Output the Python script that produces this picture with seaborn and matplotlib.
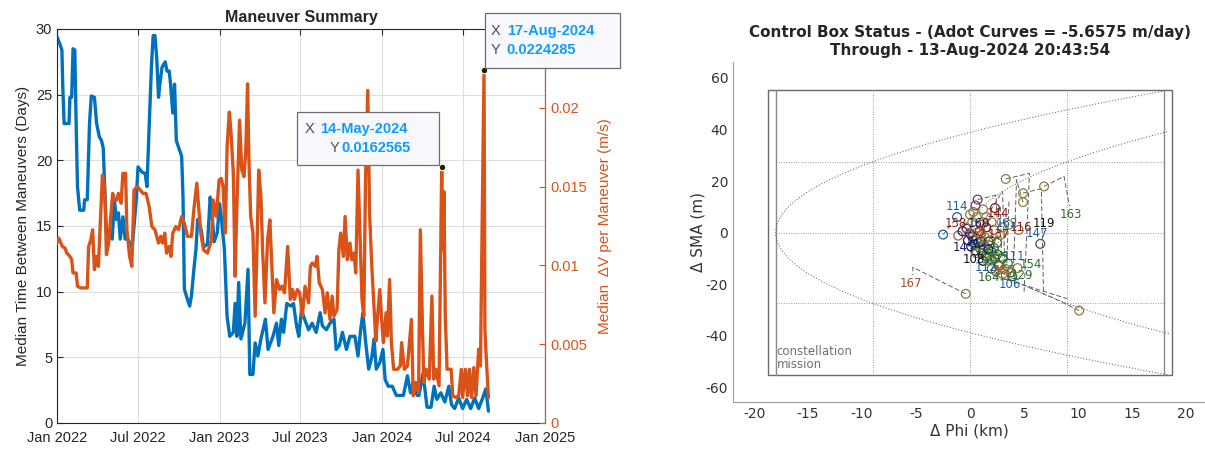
import numpy as np
import pandas as pd
import seaborn as sns
import matplotlib.pyplot as plt
from matplotlib.patches import Rectangle

sns.set_style("white")
plt.rcParams["font.family"] = ["Liberation Sans", "DejaVu Sans"]
plt.rcParams["axes.unicode_minus"] = False

# ---------------- left panel data (days since 1 Jan 2022) ----------------
start = pd.Timestamp("2022-01-01")

blue_days = [0, 6, 11, 13, 16, 27, 29, 33, 36, 40,
             43, 46, 51, 60, 62, 68, 73, 77, 84, 89,
             95, 100, 104, 107, 111, 116, 120, 124, 129, 133,
             138, 142, 148, 153, 157, 164, 169, 178, 182, 191,
             198, 202, 207, 212, 216, 220, 224, 228, 231, 236,
             243, 247, 252, 255, 260, 264, 268, 273, 280, 283,
             286, 293, 298, 302, 308, 312, 316, 324, 329, 338,
             344, 348, 353, 360, 365, 369, 376, 382, 388, 396,
             400, 404, 408, 413, 422, 429, 433, 440, 445, 451,
             458, 468, 474, 485, 493, 498, 504, 509, 516, 525,
             531, 538, 543, 549, 556, 565, 573, 582, 591, 596,
             605, 613, 622, 627, 634, 641, 650, 658, 669, 676,
             682, 687, 693, 700, 707, 712, 717, 725, 732, 737,
             744, 753, 762, 771, 778, 787, 794, 800, 809, 813,
             822, 831, 840, 847, 853, 862, 871, 880, 886, 893,
             902, 911, 920, 929, 938, 947, 956, 963, 969]
blue_vals = [29.4, 28.9, 28.4, 25.6, 22.8, 22.8, 24.8, 24.8, 28.5, 28.4,
             22.8, 18.0, 16.2, 16.2, 17.0, 17.0, 22.8, 24.9, 24.8, 22.8,
             21.8, 21.5, 20.9, 18.0, 14.5, 14.1, 14.5, 14.0, 17.0, 15.5,
             16.0, 14.0, 15.7, 14.0, 14.1, 13.7, 13.4, 17.0, 19.5, 19.1,
             19.0, 18.0, 22.5, 27.1, 29.5, 29.5, 27.8, 24.8, 25.8, 27.1,
             27.5, 26.8, 26.8, 25.8, 23.6, 25.8, 21.5, 21.0, 20.3, 17.2,
             10.2, 9.4, 8.9, 9.7, 11.9, 13.2, 15.5, 14.7, 13.4, 13.6,
             17.2, 16.0, 13.8, 14.5, 16.7, 15.7, 13.2, 8.1, 6.6, 6.9,
             9.1, 6.6, 10.7, 6.4, 7.6, 11.7, 3.7, 3.7, 6.1, 5.1,
             6.4, 7.9, 5.6, 6.6, 7.6, 5.9, 7.9, 6.9, 9.1, 8.9,
             9.1, 7.4, 6.6, 8.6, 7.9, 7.1, 7.6, 6.9, 8.4, 7.4,
             7.1, 7.6, 7.9, 5.6, 5.9, 6.9, 5.6, 6.6, 6.6, 5.1,
             7.1, 8.4, 6.2, 4.1, 5.0, 6.4, 4.1, 4.6, 5.6, 3.3,
             2.8, 2.8, 2.1, 2.1, 2.1, 3.6, 2.3, 3.1, 2.1, 2.1,
             3.8, 1.2, 1.2, 2.8, 1.8, 2.3, 1.6, 2.8, 1.4, 1.1,
             1.9, 1.1, 1.8, 1.1, 1.9, 1.1, 1.9, 2.6, 0.9]

dv_days = [0, 4, 12, 18, 22, 29, 33, 36, 43, 46,
           53, 68, 71, 76, 80, 84, 89, 93, 98, 102,
           107, 111, 116, 122, 125, 129, 134, 138, 144, 148,
           154, 157, 163, 168, 173, 180, 187, 193, 200, 207,
           213, 220, 224, 228, 233, 237, 242, 246, 252, 256,
           260, 267, 273, 280, 286, 293, 302, 308, 314, 318,
           323, 329, 338, 347, 351, 358, 364, 369, 373, 378,
           382, 387, 391, 396, 400, 404, 410, 415, 420, 424,
           428, 431, 435, 440, 445, 449, 453, 458, 462, 467,
           473, 478, 483, 487, 493, 500, 505, 511, 518, 524,
           529, 533, 540, 545, 551, 557, 565, 569, 573, 580,
           584, 589, 596, 602, 607, 613, 618, 622, 629, 633,
           637, 643, 647, 652, 658, 662, 667, 671, 676, 680,
           685, 689, 693, 698, 702, 707, 711, 716, 720, 725,
           729, 733, 739, 742, 747, 751, 756, 765, 771, 774,
           780, 787, 796, 800, 806, 812, 816, 821, 824, 829,
           836, 842, 846, 851, 858, 864, 866, 869, 872, 876,
           885, 889, 895, 902, 908, 911, 917, 922, 926, 931,
           936, 941, 947, 951, 959, 961, 965, 969]
dv_vals = [0.01142, 0.01173, 0.01120, 0.01110, 0.01078, 0.01057, 0.01036, 0.00952, 0.00952, 0.00868,
           0.00857, 0.00857, 0.01120, 0.01163, 0.01226, 0.00973, 0.01057, 0.00994, 0.01310, 0.01573,
           0.01500, 0.01068, 0.01142, 0.01352, 0.01457, 0.01415, 0.01415, 0.01457, 0.01394, 0.01584,
           0.01584, 0.01226, 0.01057, 0.00994, 0.01478, 0.01500, 0.01478, 0.01457, 0.01457, 0.01373,
           0.01247, 0.01226, 0.01184, 0.01142, 0.01184, 0.01142, 0.01205, 0.01078, 0.01120, 0.01057,
           0.01205, 0.01247, 0.01226, 0.01310, 0.01268, 0.01184, 0.01184, 0.01373, 0.01521, 0.01373,
           0.01205, 0.01099, 0.01078, 0.01163, 0.01415, 0.01310, 0.01542, 0.01552, 0.01500, 0.01205,
           0.01752, 0.01973, 0.01836, 0.01584, 0.00931, 0.01373, 0.01921, 0.01605, 0.01563, 0.01731,
           0.02152, 0.01668, 0.01310, 0.01205, 0.00678, 0.01099, 0.01605, 0.01436, 0.01078, 0.00762,
           0.01163, 0.01289, 0.00952, 0.00699, 0.00910, 0.00847, 0.00868, 0.00826, 0.01120, 0.00784,
           0.00847, 0.00784, 0.00847, 0.00826, 0.00678, 0.00868, 0.00762, 0.00994, 0.01015, 0.00994,
           0.01057, 0.00889, 0.00847, 0.00699, 0.00826, 0.00657, 0.00805, 0.00678, 0.00720, 0.01099,
           0.01205, 0.01057, 0.01310, 0.01036, 0.01142, 0.01036, 0.01078, 0.00952, 0.01605, 0.01247,
           0.00784, 0.00678, 0.01563, 0.02110, 0.01331, 0.00994, 0.00784, 0.00520, 0.00678, 0.00847,
           0.00657, 0.00510, 0.00699, 0.00552, 0.00910, 0.00510, 0.00341, 0.00341, 0.00362, 0.00510,
           0.00341, 0.00362, 0.00657, 0.00173, 0.00257, 0.00194, 0.01226, 0.00573, 0.00257, 0.00341,
           0.00278, 0.00805, 0.00278, 0.00341, 0.00236, 0.0162565, 0.01099, 0.01468, 0.00678, 0.00341,
           0.00341, 0.00173, 0.00162, 0.00173, 0.00341, 0.00162, 0.00341, 0.00173, 0.00341, 0.00162,
           0.00352, 0.00173, 0.00468, 0.00362, 0.0224285, 0.00594, 0.00362, 0.00162]

tip_dates = ["2024-05-14", "2024-08-17"]
tip_vals = [0.0162565, 0.0224285]
tip_labels_x = ["14-May-2024", "17-Aug-2024"]
tip_labels_y = ["0.0162565", "0.0224285"]

# ---------------- right panel data ----------------
adot_k = 0.0119            # curve shape for Adot = -5.6575 m/day
outer_vertex = -18.0
inner_vertex = 0.0
box_phi, box_sma = 18.7, 55.2
mission_phi = 18.0
grid_phi = [-9, 0, 9]
grid_sma = [-27.5, 0, 27.5]

sat_phi = [0.7, 0.5, 0.3, 0.0, 1.2, 2.3, 1.5, 0.2, -0.4, -0.7,
           -1.1, 0.5, 1.0, 0.3, 0.8, 1.4, 1.8, 2.2, 1.2, 0.6,
           1.5, 2.5, 3.0, 1.8, 2.6, 3.2, 2.4, 3.0, 3.8, 4.4,
           2.0, 3.0, 3.6, 4.5, 2.8, 4.9, 4.9, 3.3, 6.85, 10.1,
           6.5, -0.4, -2.5, -1.2, 1.0, 0.1, 1.7, 2.0,
           0.2, 0.6, 1.0, 0.4, 1.3, 0.9, 1.7, 1.1, 2.0, 1.6,
           2.3, 0.0, -0.3, 0.9, 1.5, 2.2, 1.2, 0.6, 2.7, 3.5,
           2.0, 3.3, 3.9, 1.2, 0.5, 1.9, 2.5, -0.2]
sat_sma = [12.8, 10.5, 8.0, 7.0, 9.0, 9.5, 6.0, 4.0, 2.0, 0.5,
           -1.2, 1.0, -1.0, -3.0, -4.0, -2.0, -5.0, -6.0, -7.0, -8.0,
           -9.0, -8.5, -10.0, -11.0, -12.5, -14.0, -15.0, -16.0, -15.5, -13.8,
           4.0, 2.0, 3.0, 1.0, -1.0, 15.3, 11.8, 20.8, 17.9, -30.3,
           -4.4, -23.8, -0.8, 6.0, 3.0, -5.5, -3.5, -10.5,
           -1.5, -2.5, -3.5, -4.5, -5.0, -6.0, -6.5, -8.0, -7.5, -9.5,
           -10.0, -0.5, 1.5, 0.5, 2.0, 1.0, 4.0, 6.0, -13.0, -12.0,
           -14.0, -16.5, -17.0, -11.0, -7.0, -3.0, -4.0, -3.0]
sat_col = ["purple", "purple", "olive", "olive", "olive", "red", "olive", "olive", "olive", "navy",
           "brown", "olive", "olive", "green", "navy", "olive", "green", "green", "brown", "olive",
           "green", "green", "green", "olive", "brown", "olive", "brown", "olive", "green", "olive",
           "olive", "olive", "olive", "olive", "olive", "olive", "olive", "olive", "olive", "olive",
           "purple", "olive", "blue", "blue", "brown", "navy", "green", "green",
           "navy", "green", "navy", "green", "brown", "green", "navy", "green", "green", "green",
           "green", "navy", "navy", "red", "red", "brown", "olive", "olive", "brown", "green",
           "green", "brown", "green", "black", "navy", "brown", "green", "navy"]

lab_text = ["114", "163", "119", "147", "116", "144", "167", "154", "111", "106",
            "164", "129", "112", "168", "138", "145", "108", "162", "137", "157",
            "135", "160"]
lab_phi = [-1.2, 9.3, 6.8, 6.2, 4.7, 2.6, -5.5, 5.6, 4.1, 3.7,
           1.7, 4.8, 1.5, 0.5, -1.3, -0.6, 0.3, 3.4, 2.7, 3.2,
           2.6, 0.8]
lab_sma = [10.2, 7.0, 3.4, -0.3, 2.1, 7.3, -19.7, -12.4, -9.3, -20.2,
           -17.6, -16.7, -13.5, -0.4, 3.6, -5.8, -10.3, 3.6, -0.6, -14.6,
           -9.8, 3.6]
lab_col = ["blue", "green", "black", "blue", "red", "red", "brown", "green", "blue", "blue",
           "green", "green", "blue", "brown", "red", "navy", "black", "blue", "red", "brown",
           "green", "navy"]

tracks = [
    ([-0.4, -5.3, -5.3], [-23.8, -13.5, -16.5]),
    ([6.85, 8.7, 9.2], [17.9, 21.8, 10.2]),
    ([-2.5, -1.2], [-0.8, 6.0]),
    ([3.3, 5.5, 5.0], [20.8, 23.0, -23.0]),
    ([4.9, 6.6, 6.8], [15.3, 17.0, -24.0]),
    ([4.9, 4.3, 4.0], [11.8, 20.5, -17.0]),
    ([3.6, 3.4], [12.0, -12.0]),
    ([2.8, 2.9], [10.0, -8.0]),
    ([10.1, 7.5, 4.9], [-30.3, -25.0, -20.3]),
    ([2.2, 9.0], [-16.7, -25.7]),
    ([0.7, 2.4, 2.6], [12.8, 14.5, -4.0]),
    ([1.5, 3.0, 3.2], [6.0, 16.0, -10.0]),
]

palette = {"blue": "#1F5FA0", "green": "#2E6B2E", "red": "#8B1A1A", "brown": "#A0522D",
           "navy": "#1A1A6E", "black": "#111111", "purple": "#6A3D6A", "olive": "#8C7E40"}

BLUE = "#0072BD"
ORANGE = "#D95319"
TIPBLUE = "#0E9CFF"
DARK = "#262626"

fig = plt.figure(figsize=(12.05, 4.51), dpi=100)

# ---------------- left panel ----------------
ax = fig.add_axes([0.0473, 0.0621, 0.4050, 0.8736])
df_b = pd.DataFrame({"date": start + pd.to_timedelta(blue_days, unit="D"), "days": blue_vals})
df_o = pd.DataFrame({"date": start + pd.to_timedelta(dv_days, unit="D"), "dv": dv_vals})

sns.lineplot(data=df_b, x="date", y="days", ax=ax, color=BLUE, lw=2.4)
ax.set_ylim(0, 30)
ax.set_yticks([0, 5, 10, 15, 20, 25, 30])
xt = pd.to_datetime(["2022-01-01", "2022-07-01", "2023-01-01", "2023-07-01",
                     "2024-01-01", "2024-07-01", "2025-01-01"])
ax.set_xticks(xt)
ax.set_xticklabels([d.strftime("%b %Y") for d in xt])
ax.set_xlim(xt[0], xt[-1])
ax.grid(True, color="#dedede", lw=0.8)
ax.set_xlabel("")
ax.set_ylabel("Median Time Between Maneuvers (Days)", fontsize=11, color=DARK)
ax.set_title("Maneuver Summary", fontweight="bold", fontsize=11.5, pad=5)
ax.tick_params(direction="in", length=4, labelsize=10.5, colors=DARK, top=True)
ax.tick_params(axis="x", pad=6)
for s in ["left", "top", "bottom"]:
    ax.spines[s].set_color(DARK)
    ax.spines[s].set_linewidth(0.8)

ax2 = ax.twinx()
sns.lineplot(data=df_o, x="date", y="dv", ax=ax2, color=ORANGE, lw=2.4)
ax2.scatter(pd.to_datetime(tip_dates), tip_vals, s=22, color="#1a1a1a",
            edgecolor="#FFFFB0", linewidth=0.8, zorder=5)
ax2.set_ylim(0, 0.025)
ax2.set_yticks([0, 0.005, 0.01, 0.015, 0.02])
ax2.set_yticklabels(["0", "0.005", "0.01", "0.015", "0.02"])
ax2.set_xlim(xt[0], xt[-1])
ax2.set_xlabel("")
ax2.set_ylabel("Median  \u0394V per Maneuver (m/s)", fontsize=11, color=ORANGE, labelpad=8)
ax2.tick_params(axis="y", direction="in", length=4, labelsize=10.5, colors=ORANGE)
ax2.spines["right"].set_color(ORANGE)
ax2.spines["left"].set_visible(False)
ax2.spines["top"].set_visible(False)
ax2.spines["bottom"].set_visible(False)

# data tips
tip_boxes = [(0.2465, 0.6341, 0.1178, 0.1175), (0.4025, 0.8492, 0.1120, 0.1220)]
tip_rows = [((0.2531, 0.2656, 0.714), (0.2739, 0.2830, 0.672)),
            ((0.4075, 0.4208, 0.931), (0.4075, 0.4200, 0.889))]
for (bx0, by0, bw, bh), (rx, ry), tx, ty in zip(tip_boxes, tip_rows, tip_labels_x, tip_labels_y):
    fig.patches.append(Rectangle((bx0, by0), bw, bh, transform=fig.transFigure,
                                 facecolor="#F8F8FE", edgecolor="#6e6e6e", lw=0.9, zorder=4))
    fig.text(rx[0], rx[2], "X", color="#505050", fontsize=10.5, va="center", zorder=5)
    fig.text(rx[1], rx[2], tx, color=TIPBLUE, fontsize=10.5, fontweight="bold", va="center", zorder=5)
    fig.text(ry[0], ry[2], "Y", color="#505050", fontsize=10.5, va="center", zorder=5)
    fig.text(ry[1], ry[2], ty, color=TIPBLUE, fontsize=10.5, fontweight="bold", va="center", zorder=5)

# ---------------- right panel ----------------
RF = ["DejaVu Sans"]
bx = fig.add_axes([0.6083, 0.1086, 0.3917, 0.7539])
bx.set_xlim(-21.95, 21.75)
bx.set_ylim(-65.8, 66.2)

bx.add_patch(Rectangle((-box_phi, -box_sma), 2 * box_phi, 2 * box_sma,
                       fill=False, edgecolor="#6a6a6a", lw=1.0))
for xm in [-mission_phi, mission_phi]:
    bx.plot([xm, xm], [-box_sma, box_sma], color="#8a8a8a", lw=1.0)
for g in grid_phi:
    bx.plot([g, g], [-box_sma, box_sma], color="#9a9a9a", lw=0.7, ls=(0, (1, 1.5)))
for g in grid_sma:
    bx.plot([-mission_phi, mission_phi], [g, g], color="#9a9a9a", lw=0.7, ls=(0, (1, 1.5)))

yy = np.linspace(-box_sma, box_sma, 300)
xo = outer_vertex + adot_k * yy ** 2
xi = inner_vertex + adot_k * yy ** 2
bx.plot(xo, yy, color="#555555", lw=0.7, ls=(0, (1, 2)))
m = xi <= box_phi
bx.plot(xi[m], yy[m], color="#555555", lw=0.7, ls=(0, (1, 2)))

for tp, ts in tracks:
    bx.plot(tp, ts, color="#606060", lw=0.7, dashes=(5, 2.5))

sats = pd.DataFrame({"phi": sat_phi, "sma": sat_sma, "col": sat_col})
for c, grp in sats.groupby("col"):
    sns.scatterplot(data=grp, x="phi", y="sma", ax=bx, color=palette[c],
                    facecolor="none", edgecolor=palette[c], s=40, linewidth=0.9, zorder=3)

for t, px, py, c in zip(lab_text, lab_phi, lab_sma, lab_col):
    bx.text(px, py, t, color=palette[c], fontsize=8.5, ha="center", va="center",
            family=RF, zorder=4)

bx.text(-17.9, -53.8, "constellation\nmission", color="#707070", fontsize=8.5,
        ha="left", va="bottom", family=RF, linespacing=1.05)

bx.set_xticks([-20, -15, -10, -5, 0, 5, 10, 15, 20])
bx.set_yticks([-60, -40, -20, 0, 20, 40, 60])
bx.tick_params(direction="in", length=3, labelsize=10, colors="#9a9a9a", labelcolor="#333333")
for lab in bx.get_xticklabels() + bx.get_yticklabels():
    lab.set_family(RF)
bx.set_xlabel("\u0394 Phi (km)", fontsize=11, color="#333333", family=RF, labelpad=2)
bx.set_ylabel("\u0394 SMA (m)", fontsize=11, color="#333333", family=RF, labelpad=0)
for s in ["top", "right"]:
    bx.spines[s].set_visible(False)
for s in ["left", "bottom"]:
    bx.spines[s].set_color("#9a9a9a")

fig.text(0.805, 0.929, "Control Box Status - (Adot Curves = -5.6575 m/day)",
         ha="center", va="center", fontsize=11, fontweight="bold", family=RF)
fig.text(0.805, 0.887, "Through - 13-Aug-2024 20:43:54",
         ha="center", va="center", fontsize=11, fontweight="bold", family=RF)

fig.savefig("out.png", dpi=100)
